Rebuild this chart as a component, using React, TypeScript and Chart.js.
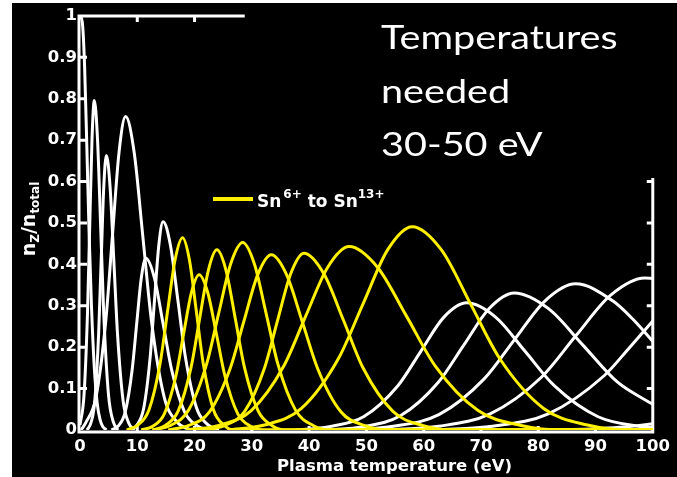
import React, { useEffect, useRef } from "react";
import { Chart, registerables } from "chart.js";

Chart.register(...registerables);

const WHITE = "#ffffff";
const YELLOW = "#fff000";

// Axis ticks
const xTickValues = [0, 10, 20, 30, 40, 50, 60, 70, 80, 90, 100];
const yTickValues = [0, 0.1, 0.2, 0.3, 0.4, 0.5, 0.6, 0.7, 0.8, 0.9, 1];
const topTickValues = [10, 20];
const rightTickValues = [0.1, 0.2, 0.3, 0.4, 0.5, 0.6];

// Ion fractions n_Z/n_total vs plasma temperature (eV), [T, fraction]
const sn0 = [[0, 1], [0.4, 0.985], [0.8, 0.88], [1.2, 0.68], [1.6, 0.47], [2, 0.3], [2.5, 0.15], [3, 0.065], [3.5, 0.025], [4, 0.008], [4.6, 0]];
const sn1 = [[0, 0.012], [0.7, 0.084], [1.3, 0.279], [1.7, 0.494], [2.1, 0.704], [2.5, 0.796], [3.05, 0.704], [3.6, 0.494], [4.15, 0.279], [4.98, 0.084], [5.8, 0.02], [6.63, 0]];
const sn2 = [[1.23, 0], [1.9, 0.017], [2.58, 0.07], [3.25, 0.232], [3.7, 0.411], [4.15, 0.587], [4.6, 0.663], [5.25, 0.587], [5.9, 0.411], [6.55, 0.232], [7.53, 0.07], [8.5, 0.017], [9.48, 0]];
const sn3 = [[0.2, 0], [1.06, 0.019], [2.79, 0.079], [4.51, 0.265], [5.66, 0.469], [6.81, 0.67], [7.96, 0.757], [9.46, 0.67], [10.96, 0.469], [12.46, 0.265], [14.71, 0.079], [16.96, 0.019], [19.21, 0]];
const sn4 = [[5.5, 0], [6.7, 0.01], [7.9, 0.044], [9.1, 0.145], [9.9, 0.257], [10.7, 0.367], [11.5, 0.415], [13, 0.367], [14.5, 0.257], [16, 0.145], [18.25, 0.044], [20.5, 0.01], [22.75, 0]];
const sn5 = [[8.88, 0], [10, 0.013], [11.13, 0.053], [12.25, 0.176], [13, 0.312], [13.75, 0.445], [14.5, 0.503], [15.8, 0.445], [17.1, 0.312], [18.4, 0.176], [20.35, 0.053], [22.3, 0.013], [24.25, 0]];
const sn6 = [[8.15, 0], [10.1, 0.012], [12.05, 0.049], [14, 0.162], [15.3, 0.288], [16.6, 0.411], [17.9, 0.464], [19.1, 0.411], [20.3, 0.288], [21.5, 0.162], [23.3, 0.049], [25.1, 0.012], [26.9, 0], [100, 0]];
const sn7 = [[10.68, 0], [12.7, 0.009], [14.73, 0.039], [16.75, 0.131], [18.1, 0.233], [19.45, 0.332], [20.8, 0.375], [22.3, 0.332], [23.8, 0.233], [25.3, 0.131], [27.55, 0.039], [29.8, 0.009], [32.05, 0], [100, 0]];
const sn8 = [[12.65, 0], [14.9, 0.011], [17.15, 0.046], [19.4, 0.152], [20.9, 0.27], [22.4, 0.385], [23.9, 0.435], [25.5, 0.385], [27.1, 0.27], [28.7, 0.152], [31.1, 0.046], [33.5, 0.011], [35.9, 0], [100, 0]];
const sn9 = [[12.65, 0], [15.8, 0.011], [18.95, 0.048], [22.1, 0.159], [24.2, 0.281], [26.3, 0.401], [28.4, 0.453], [30.45, 0.401], [32.5, 0.281], [34.55, 0.159], [37.63, 0.048], [40.7, 0.011], [43.78, 0], [100, 0]];
const sn10 = [[15.4, 0], [19, 0.011], [22.6, 0.044], [26.2, 0.148], [28.6, 0.262], [31, 0.374], [33.4, 0.423], [36.1, 0.374], [38.8, 0.262], [41.5, 0.148], [45.55, 0.044], [49.6, 0.011], [53.65, 0], [100, 0]];
const sn11 = [[21.85, 0], [25.3, 0.011], [28.75, 0.045], [32.2, 0.149], [34.5, 0.265], [36.8, 0.378], [39.1, 0.427], [42.55, 0.378], [46, 0.265], [49.45, 0.149], [54.63, 0.045], [59.8, 0.011], [64.98, 0], [100, 0]];
const sn12 = [[18.5, 0], [24.2, 0.011], [29.9, 0.047], [35.6, 0.155], [39.4, 0.275], [43.2, 0.392], [47, 0.443], [52, 0.392], [57, 0.275], [62, 0.155], [69.5, 0.047], [77, 0.011], [84.5, 0], [100, 0]];
const sn13 = [[25.75, 0], [32.2, 0.012], [38.65, 0.052], [45.1, 0.172], [49.4, 0.304], [53.7, 0.435], [58, 0.491], [63.1, 0.435], [68.2, 0.304], [73.3, 0.172], [80.95, 0.052], [88.6, 0.012], [96.25, 0], [100, 0]];
const sn14 = [[37.5, 0], [43.5, 0.008], [49.5, 0.032], [55.5, 0.107], [59.5, 0.19], [63.5, 0.272], [67.5, 0.307], [72.6, 0.272], [77.7, 0.19], [82.8, 0.107], [90.45, 0.032], [98.1, 0.008], [100, 0.006]];
const sn15 = [[42.8, 0], [49.4, 0.008], [56, 0.035], [62.6, 0.116], [67, 0.205], [71.4, 0.293], [75.8, 0.331], [81.8, 0.293], [87.8, 0.205], [93.8, 0.116], [100, 0.062]];
const sn16 = [[46.75, 0], [54.7, 0.009], [62.65, 0.037], [70.6, 0.124], [75.9, 0.219], [81.2, 0.312], [86.5, 0.353], [93, 0.312], [96.5, 0.268], [100, 0.214]];
const sn17 = [[53.6, 0], [62.6, 0.009], [71.6, 0.039], [80.6, 0.128], [86.6, 0.228], [92.6, 0.325], [98.6, 0.367], [100, 0.366]];
const sn18 = [[62, 0], [72, 0.009], [81.75, 0.039], [91.5, 0.131], [96, 0.2], [100, 0.263]];
const sn19 = [[84, 0], [90, 0.003], [95, 0.007], [100, 0.015]];

const whiteSeries = [sn0, sn1, sn2, sn3, sn4, sn5, sn14, sn15, sn16, sn17, sn18, sn19];
const yellowSeries = [sn6, sn7, sn8, sn9, sn10, sn11, sn12, sn13];

// partial frame (the top-right of the box is hidden behind the text)
const TOP_FRAME_END = 28.5;
const RIGHT_FRAME_TOP = 0.605;

const framePlugin = {
  id: "frame",
  beforeDatasetsDraw(chart: any) {
    const { ctx, scales } = chart;
    const x = scales.x;
    const y = scales.y;
    const x0 = x.getPixelForValue(0) - 1;
    const x1 = x.getPixelForValue(100);
    const y1 = y.getPixelForValue(1);
    const yb = y.getPixelForValue(0) + 2;
    ctx.save();
    ctx.strokeStyle = WHITE;
    ctx.lineWidth = 3;
    ctx.lineCap = "square";
    ctx.lineJoin = "miter";
    ctx.beginPath();
    ctx.moveTo(x.getPixelForValue(TOP_FRAME_END), y1);
    ctx.lineTo(x0, y1);
    ctx.lineTo(x0, yb);
    ctx.lineTo(x1, yb);
    ctx.lineTo(x1, y.getPixelForValue(RIGHT_FRAME_TOP));
    ctx.stroke();
    ctx.lineCap = "butt";
    ctx.beginPath();
    yTickValues.slice(1, -1).forEach((v) => {
      const py = y.getPixelForValue(v);
      ctx.moveTo(x0, py);
      ctx.lineTo(x0 + 8, py);
    });
    xTickValues.slice(1, -1).forEach((v) => {
      const px = x.getPixelForValue(v);
      ctx.moveTo(px, yb);
      ctx.lineTo(px, yb - 6);
    });
    topTickValues.forEach((v) => {
      const px = x.getPixelForValue(v);
      ctx.moveTo(px, y1);
      ctx.lineTo(px, y1 + 6);
    });
    rightTickValues.forEach((v) => {
      const py = y.getPixelForValue(v);
      ctx.moveTo(x1, py);
      ctx.lineTo(x1 - 6, py);
    });
    ctx.stroke();
    ctx.restore();
  },
};

const tickFont = { family: "'DejaVu Sans', sans-serif", weight: "bold" as const, size: 16.5 };

export default function App() {
  const canvasRef = useRef<HTMLCanvasElement | null>(null);

  useEffect(() => {
    const canvas = canvasRef.current;
    if (!canvas) return;
    const toPoints = (s: number[][]) => s.map(([x, y]) => ({ x, y }));
    const datasets = [
      ...yellowSeries.map((s) => ({
        data: toPoints(s),
        borderColor: YELLOW,
        borderWidth: 3,
        pointRadius: 0,
        fill: false,
        cubicInterpolationMode: "monotone" as const,
        order: 0,
      })),
      ...whiteSeries.map((s) => ({
        data: toPoints(s),
        borderColor: WHITE,
        borderWidth: 3,
        pointRadius: 0,
        fill: false,
        cubicInterpolationMode: "monotone" as const,
        order: 1,
      })),
    ];
    const chart = new Chart(canvas, {
      type: "line",
      data: { datasets },
      plugins: [framePlugin],
      options: {
        animation: false,
        responsive: false,
        events: [],
        layout: { padding: { top: 11, right: 19, left: 0, bottom: 0 } },
        plugins: { legend: { display: false }, tooltip: { enabled: false } },
        scales: {
          x: {
            type: "linear",
            min: 0,
            max: 100,
            afterFit: (s: any) => {
              s.height = 47;
            },
            grid: { display: false, drawTicks: false },
            border: { display: false },
            ticks: {
              stepSize: 10,
              color: WHITE,
              font: tickFont,
              padding: 7,
              maxRotation: 0,
              autoSkip: false,
              callback: (v: any) => String(v),
            },
          },
          y: {
            type: "linear",
            min: 0,
            max: 1,
            afterFit: (s: any) => {
              s.width = 68;
            },
            grid: { display: false, drawTicks: false },
            border: { display: false },
            ticks: {
              stepSize: 0.1,
              color: WHITE,
              font: tickFont,
              padding: 3,
              autoSkip: false,
              callback: (v: any) => String(Math.round(Number(v) * 10) / 10),
            },
          },
        },
      },
    });
    return () => chart.destroy();
  }, []);

  const dv = "'DejaVu Sans', sans-serif";

  return (
    <div style={{ position: "fixed", left: 0, top: 0, width: 677, height: 477, background: "#fff", overflow: "hidden" }}>
      <div style={{ position: "absolute", left: 12, top: 3, width: 665, height: 474, background: "#000" }}>
        <canvas ref={canvasRef} width={665} height={474} style={{ display: "block", width: 665, height: 474 }} />
      </div>
      {/* y axis title */}
      <div
        style={{
          position: "absolute",
          left: 28 - 60,
          top: 219 - 12,
          width: 120,
          height: 24,
          lineHeight: "24px",
          textAlign: "center",
          transform: "rotate(-90deg)",
          transformOrigin: "50% 50%",
          color: WHITE,
          fontFamily: dv,
          fontWeight: "bold",
          fontSize: 19,
          whiteSpace: "nowrap",
        }}
      >
        n<span style={{ fontSize: 12, position: "relative", top: 4 }}>Z</span>/n
        <span style={{ fontSize: 12, position: "relative", top: 4 }}>total</span>
      </div>
      {/* x axis title */}
      <div
        style={{
          position: "absolute",
          left: 277,
          top: 456,
          lineHeight: "19px",
          color: WHITE,
          fontFamily: dv,
          fontWeight: "bold",
          fontSize: 16.5,
          whiteSpace: "nowrap",
        }}
      >
        Plasma temperature (eV)
      </div>
      {/* legend */}
      <div style={{ position: "absolute", left: 213, top: 197, width: 40, height: 4, background: YELLOW }} />
      <div
        style={{
          position: "absolute",
          left: 257,
          top: 191,
          lineHeight: "20px",
          color: WHITE,
          fontFamily: dv,
          fontWeight: "bold",
          fontSize: 17,
          whiteSpace: "nowrap",
        }}
      >
        Sn<span style={{ fontSize: 12, position: "relative", top: -9, marginLeft: 2 }}>6+</span> to Sn
        <span style={{ fontSize: 12, position: "relative", top: -9 }}>13+</span>
      </div>
      {/* annotation */}
      <div
        style={{
          position: "absolute",
          left: 381,
          top: 10,
          color: WHITE,
          fontFamily: "Lato, 'Open Sans', sans-serif",
          fontSize: 33,
          lineHeight: "53.5px",
          transform: "scaleX(1.2)",
          transformOrigin: "0 0",
          whiteSpace: "nowrap",
        }}
      >
        <div>Temperatures</div>
        <div>needed</div>
        <div>30-50 eV</div>
      </div>
    </div>
  );
}
